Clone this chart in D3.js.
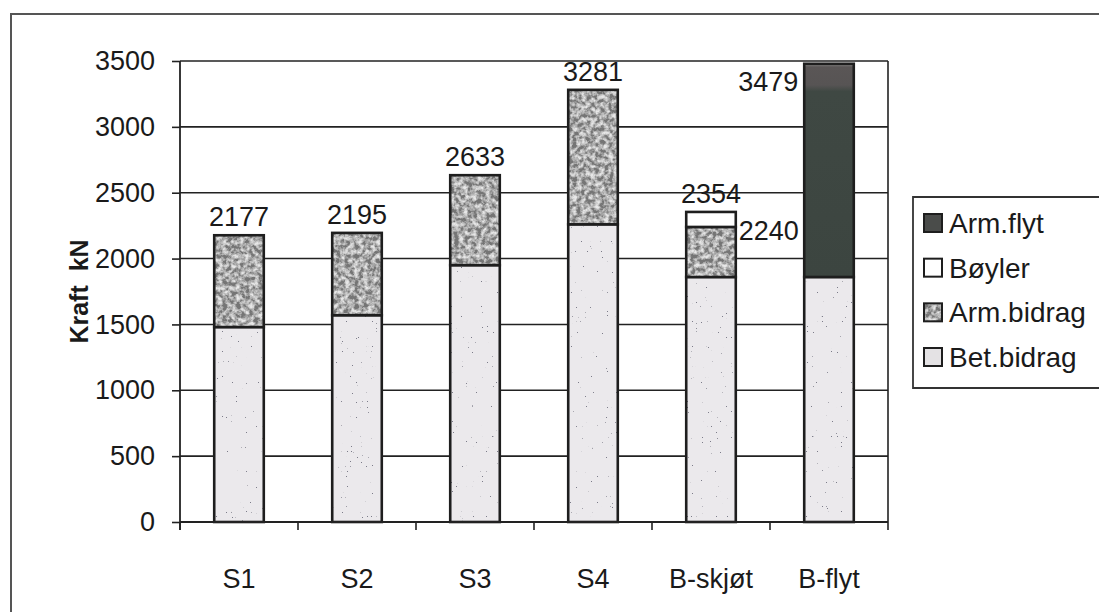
<!DOCTYPE html>
<html>
<head>
<meta charset="utf-8">
<script src="https://cdn.jsdelivr.net/npm/d3@7"></script>
<style>
  html, body { margin: 0; padding: 0; background: #fff; }
  svg { display: block; }
  text { font-family: Arial, "Liberation Sans", sans-serif; fill: #1a1a1a; }
</style>
</head>
<body>
<svg id="chart" width="1099" height="612"></svg>
<script>
// ---------- data ----------
const categories = ["S1", "S2", "S3", "S4", "B-skjøt", "B-flyt"];
const seriesNames = ["Bet.bidrag", "Arm.bidrag", "Bøyler", "Arm.flyt"];
const betBidrag = [1480, 1570, 1950, 2260, 1860, 1860];
const armBidrag = [697, 625, 683, 1021, 380, 0];
const boyler    = [0, 0, 0, 0, 114, 0];
const armFlyt   = [0, 0, 0, 0, 0, 1619];
const totalLabels = [2177, 2195, 2633, 3281, 2354, 3479];
const extraLabelCategory = "B-skjøt";
const extraLabelValue = 2240;
const yTicks = [0, 500, 1000, 1500, 2000, 2500, 3000, 3500];
const yTitle = "Kraft  kN";

// ---------- setup ----------
const svg = d3.select("#chart");
const defs = svg.append("defs");

// mottled texture for Arm.bidrag
const fm = defs.append("filter").attr("id", "mottle")
  .attr("x", 0).attr("y", 0).attr("width", 1).attr("height", 1);
fm.append("feTurbulence").attr("type", "fractalNoise").attr("baseFrequency", 0.22)
  .attr("numOctaves", 3).attr("seed", 5).attr("result", "n");
fm.append("feColorMatrix").attr("in", "n").attr("type", "matrix")
  .attr("values", "2.4 0 0 0 -0.82  2.4 0 0 0 -0.82  2.4 0 0 0 -0.82  0 0 0 0 1")
  .attr("result", "g");
fm.append("feComponentTransfer").attr("in", "g").attr("result", "g2")
  .call(s => {
    s.append("feFuncR").attr("type", "linear").attr("slope", 0.62).attr("intercept", 0.18);
    s.append("feFuncG").attr("type", "linear").attr("slope", 0.62).attr("intercept", 0.18);
    s.append("feFuncB").attr("type", "linear").attr("slope", 0.62).attr("intercept", 0.18);
  });
fm.append("feComposite").attr("in", "g2").attr("in2", "SourceGraphic").attr("operator", "in");

// speckled texture for Bet.bidrag
const fs = defs.append("filter").attr("id", "speck")
  .attr("x", 0).attr("y", 0).attr("width", 1).attr("height", 1);
fs.append("feTurbulence").attr("type", "fractalNoise").attr("baseFrequency", 0.8)
  .attr("numOctaves", 1).attr("seed", 11).attr("result", "n");
fs.append("feColorMatrix").attr("in", "n").attr("type", "matrix")
  .attr("values", "0 0 0 0 0.2  0 0 0 0 0.2  0 0 0 0 0.25  40 0 0 0 -29.5")
  .attr("result", "sp");
fs.append("feComposite").attr("in", "sp").attr("in2", "SourceGraphic").attr("operator", "in").attr("result", "spc");
const fsm = fs.append("feMerge");
fsm.append("feMergeNode").attr("in", "SourceGraphic");
fsm.append("feMergeNode").attr("in", "spc");

// gradient for Arm.flyt (scan shading near top)
const gr = defs.append("linearGradient").attr("id", "flytGrad")
  .attr("x1", 0).attr("y1", 0).attr("x2", 0).attr("y2", 1);
gr.append("stop").attr("offset", "0").attr("stop-color", "#8a8a88");
gr.append("stop").attr("offset", "0.015").attr("stop-color", "#5a5656");
gr.append("stop").attr("offset", "0.10").attr("stop-color", "#575454");
gr.append("stop").attr("offset", "0.13").attr("stop-color", "#3f4843");
gr.append("stop").attr("offset", "1").attr("stop-color", "#3c4540");

const styles = {
  "Bet.bidrag": { fill: "#ebe9ec", filter: "url(#speck)" },
  "Arm.bidrag": { fill: "#777", filter: "url(#mottle)" },
  "Bøyler":     { fill: "#ffffff", filter: null },
  "Arm.flyt":   { fill: "url(#flytGrad)", filter: null }
};
const legendFill = {
  "Bet.bidrag": "#e4e2e4", "Arm.bidrag": "#777", "Bøyler": "#ffffff", "Arm.flyt": "#4a4c4a"
};

const plot = { left: 180, right: 888, top: 61, bottom: 522 };
const x = d3.scaleBand().domain(categories).range([plot.left, plot.right])
  .paddingInner(0.58).paddingOuter(0.29);
const y = d3.scaleLinear().domain([0, 3500]).range([plot.bottom, plot.top]);

// outer frame
svg.append("path")
  .attr("d", `M11,620 L11,14 L1110,14`)
  .attr("fill", "none").attr("stroke", "#555").attr("stroke-width", 2);

// gridlines
svg.append("g").selectAll("line").data(yTicks.filter(d => d > 0)).join("line")
  .attr("x1", plot.left).attr("x2", plot.right)
  .attr("y1", d => y(d)).attr("y2", d => y(d))
  .attr("stroke", "#222").attr("stroke-width", 1.6);
// right border of plot
svg.append("line").attr("x1", plot.right).attr("x2", plot.right)
  .attr("y1", plot.top).attr("y2", plot.bottom)
  .attr("stroke", "#222").attr("stroke-width", 1.6);

// stacked data
const table = categories.map((c, i) => ({
  cat: c, "Bet.bidrag": betBidrag[i], "Arm.bidrag": armBidrag[i], "Bøyler": boyler[i], "Arm.flyt": armFlyt[i]
}));
const stacked = d3.stack().keys(seriesNames)(table);

const barG = svg.append("g");
stacked.forEach(layer => {
  const st = styles[layer.key];
  const segs = layer.filter(d => d[1] > d[0]);
  barG.append("g").selectAll("rect").data(segs).join("rect")
    .attr("x", d => x(d.data.cat)).attr("width", x.bandwidth())
    .attr("y", d => y(d[1])).attr("height", d => y(d[0]) - y(d[1]))
    .attr("fill", st.fill)
    .attr("filter", st.filter);
  barG.append("g").selectAll("rect").data(segs).join("rect")
    .attr("x", d => x(d.data.cat)).attr("width", x.bandwidth())
    .attr("y", d => y(d[1])).attr("height", d => y(d[0]) - y(d[1]))
    .attr("fill", "none").attr("stroke", "#1e1e1e").attr("stroke-width", 2.6);
});

// y axis
const yAxis = svg.append("g").attr("transform", `translate(${plot.left},0)`)
  .call(d3.axisLeft(y).tickValues(yTicks).tickSize(8).tickPadding(17).tickFormat(d3.format("d")));
yAxis.select(".domain").attr("stroke", "#222").attr("stroke-width", 1.8)
  .attr("d", `M0,${plot.top}V${plot.bottom + 8}`);
yAxis.selectAll(".tick line").attr("stroke", "#222").attr("stroke-width", 1.6);
yAxis.selectAll(".tick text").attr("font-size", 27).attr("fill", "#1a1a1a")
  .attr("font-family", "Arial, 'Liberation Sans', sans-serif");

// x axis
const xAxisG = svg.append("g");
xAxisG.append("line").attr("x1", plot.left).attr("x2", plot.right)
  .attr("y1", plot.bottom).attr("y2", plot.bottom).attr("stroke", "#222").attr("stroke-width", 1.8);
const boundaries = categories.map(c => x(c) - (x.step() - x.bandwidth()) / 2);
boundaries.push(plot.right);
xAxisG.selectAll("line.tk").data(boundaries).join("line").attr("class", "tk")
  .attr("x1", d => d).attr("x2", d => d)
  .attr("y1", plot.bottom).attr("y2", plot.bottom + 8)
  .attr("stroke", "#222").attr("stroke-width", 1.6);
xAxisG.selectAll("text").data(categories).join("text")
  .attr("x", d => x(d) + x.bandwidth() / 2).attr("y", 588)
  .attr("text-anchor", "middle").attr("font-size", 27).text(d => d);

// y title
svg.append("text")
  .attr("transform", `translate(88,${(plot.top + plot.bottom) / 2}) rotate(-90)`)
  .attr("text-anchor", "middle").attr("font-size", 25).attr("font-weight", "bold")
  .attr("xml:space", "preserve").style("white-space", "pre")
  .text(yTitle);

// value labels
const lab = svg.append("g").attr("font-size", 27);
categories.forEach((c, i) => {
  const cx = x(c) + x.bandwidth() / 2;
  const v = totalLabels[i];
  if (c === "B-flyt") {
    lab.append("text").attr("x", x(c) - 6).attr("y", y(v) + 27)
      .attr("text-anchor", "end").text(v);
  } else {
    lab.append("text").attr("x", cx).attr("y", y(v) - 9)
      .attr("text-anchor", "middle").text(v);
  }
});
lab.append("text")
  .attr("x", x(extraLabelCategory) + x.bandwidth() + 3)
  .attr("y", y(extraLabelValue) + 13)
  .attr("text-anchor", "start").text(extraLabelValue);

// legend
const legend = svg.append("g");
legend.append("path").attr("d", "M1110,197 L913,197 L913,388 L1110,388")
  .attr("fill", "#fff").attr("stroke", "#333").attr("stroke-width", 1.8);
const legendOrder = seriesNames.slice().reverse();
const ly = d3.scalePoint().domain(legendOrder).range([223, 357]);
legendOrder.forEach(k => {
  legend.append("rect").attr("x", 924).attr("y", ly(k) - 9).attr("width", 18).attr("height", 18)
    .attr("fill", legendFill[k])
    .attr("filter", k === "Arm.bidrag" ? "url(#mottle)" : null);
  legend.append("rect").attr("x", 924).attr("y", ly(k) - 9).attr("width", 18).attr("height", 18)
    .attr("fill", "none").attr("stroke", "#1e1e1e").attr("stroke-width", 2);
  legend.append("text").attr("x", 949).attr("y", ly(k) + 10).attr("font-size", 28).text(k);
});
</script>
</body>
</html>
